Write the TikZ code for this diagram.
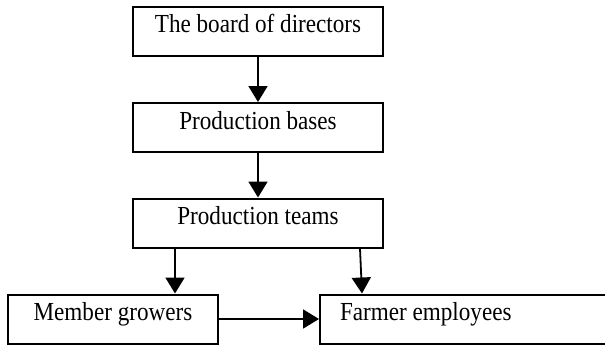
\documentclass[tikz,border=0pt]{standalone}
\usepackage{fontspec}
\setmainfont{Liberation Serif}[FakeStretch=0.89]
\usetikzlibrary{arrows.meta}
\begin{document}
\begin{tikzpicture}[x=1pt,y=-1pt,
  box/.style={draw,line width=2pt,minimum width=250pt,inner xsep=0pt,inner ysep=0pt,
    text height=26pt,text depth=23pt,font=\fontsize{26}{30}\selectfont},
  arr/.style={line width=1.8pt,-{Triangle[length=16pt,width=19pt]}}]
\useasboundingbox (0,0) rectangle (605,346);
\node[box] (b1) at (258,31) {The board of directors};
\node[box] (b2) at (258,127.5) {Production bases};
\node[box] (b3) at (258,223) {Production teams};
\node[box,minimum width=210pt] (b4) at (113,319) {Member growers};
\node[box,minimum width=287pt] (b5) at (463.5,319) {\makebox[247pt][l]{Farmer employees}};
\draw[arr] (b1) -- (b2);
\draw[arr] (b2) -- (b3);
\coordinate (s1) at ([xshift=-83pt]b3.south);
\coordinate (s2) at ([xshift=102pt]b3.south);
\coordinate (e2) at ([xshift=104pt]b3.south |- b5.north);
\draw[arr] (s1) -- (s1 |- b4.north);
\draw[arr] (s2) -- (e2);
\draw[arr] ([xshift=-2pt]b4.east) -- (b5.west);
\end{tikzpicture}
\end{document}
